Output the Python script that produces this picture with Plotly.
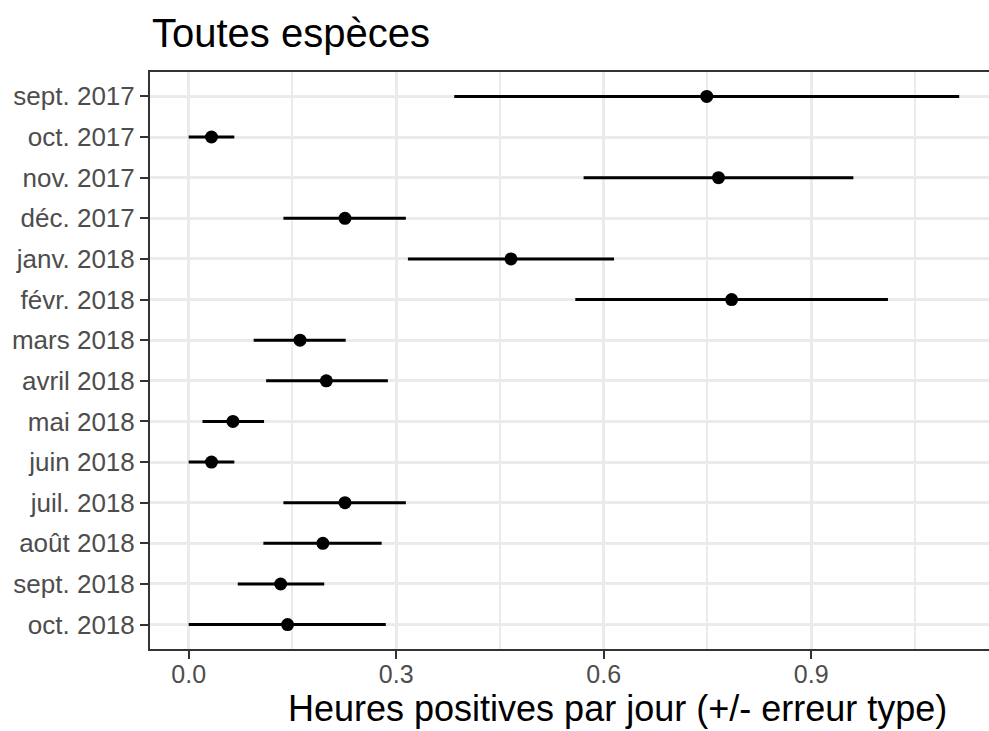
import plotly.graph_objects as go

months = ["sept. 2017", "oct. 2017", "nov. 2017", "déc. 2017", "janv. 2018", "févr. 2018",
          "mars 2018", "avril 2018", "mai 2018", "juin 2018", "juil. 2018", "août 2018",
          "sept. 2018", "oct. 2018"]
mean_vals = [0.749, 0.033, 0.766, 0.226, 0.466, 0.785, 0.161, 0.199, 0.064, 0.033, 0.226, 0.194, 0.133, 0.143]
lower_vals = [0.384, 0.000, 0.571, 0.137, 0.317, 0.559, 0.094, 0.112, 0.020, 0.000, 0.137, 0.108, 0.071, 0.000]
upper_vals = [1.114, 0.066, 0.961, 0.314, 0.615, 1.011, 0.227, 0.288, 0.109, 0.066, 0.314, 0.279, 0.196, 0.285]

x_ticks = [0.0, 0.3, 0.6, 0.9]

err_plus = [u - m for u, m in zip(upper_vals, mean_vals)]
err_minus = [m - l for m, l in zip(mean_vals, lower_vals)]

FONT = "Liberation Sans, Arial, Helvetica, sans-serif"
GRID = "#EBEBEB"
DARK = "#333333"

fig = go.Figure()
fig.add_trace(go.Scatter(
    x=mean_vals, y=months, mode="markers",
    marker=dict(color="black", size=13),
    error_x=dict(type="data", symmetric=False, array=err_plus, arrayminus=err_minus,
                 width=0, thickness=3, color="black"),
    showlegend=False,
))

fig.update_layout(
    width=989, height=731,
    margin=dict(l=150, r=0, t=72, b=82),
    paper_bgcolor="white", plot_bgcolor="white",
    font=dict(family=FONT, color="black"),
    xaxis=dict(
        range=[-0.0559, 1.1571],
        tickvals=x_ticks, ticktext=[f"{v:.1f}" for v in x_ticks],
        showgrid=True, gridcolor=GRID, gridwidth=3,
        minor=dict(dtick=0.15, tick0=0, showgrid=True, gridcolor=GRID, gridwidth=1.5, ticks=""),
        zeroline=False,
        showline=True, linecolor=DARK, linewidth=2, mirror=True,
        ticks="outside", ticklen=8, tickwidth=2, tickcolor=DARK,
        ticklabelstandoff=-6,
        tickfont=dict(size=25, color="#4D4D4D", family=FONT),
    ),
    yaxis=dict(
        type="category", categoryorder="array", categoryarray=months,
        range=[13.6, -0.6],
        showgrid=True, gridcolor=GRID, gridwidth=3,
        zeroline=False,
        showline=True, linecolor=DARK, linewidth=2, mirror=False,
        ticks="outside", ticklen=8, tickwidth=2, tickcolor=DARK,
        tickfont=dict(size=26, color="#4D4D4D", family=FONT),
    ),
    annotations=[
        dict(text="Toutes espèces", xref="paper", yref="paper", x=0.0, y=(649 - 33) / 577,
             xanchor="left", yanchor="middle", showarrow=False,
             font=dict(size=40, color="black", family=FONT)),
        dict(text="Heures positives par jour (+/- erreur type)", xref="paper", yref="paper",
             x=(617 - 150) / 839, y=(649 - 731) / 577, xanchor="center", yanchor="bottom",
             showarrow=False, font=dict(size=36, color="black", family=FONT)),
    ],
)

fig.write_html("out.html")
